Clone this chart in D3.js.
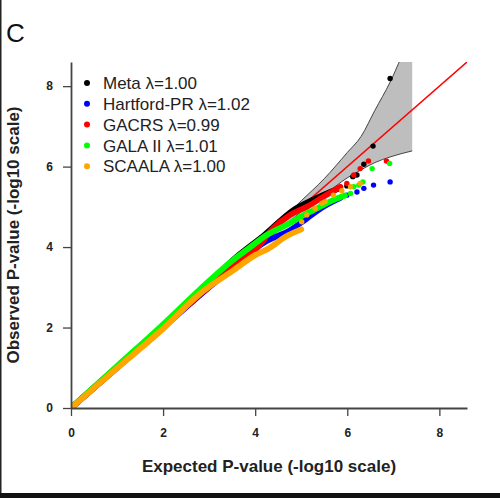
<!DOCTYPE html>
<html><head><meta charset="utf-8">
<script src="https://cdn.jsdelivr.net/npm/d3@7"></script>
<style>html,body{margin:0;padding:0;background:#fff;}svg{display:block;}</style>
</head><body>
<svg id="c" width="500" height="498"></svg>
<script>
// ---------- data ----------
const xTicks = [0, 2, 4, 6, 8];
const yTicks = [0, 2, 4, 6, 8];
const seriesNames = ["Meta", "Hartford-PR", "GACRS", "GALA II", "SCAALA"];
const lambdas = ["1.00", "1.02", "0.99", "1.01", "1.00"];
const colors = ["#000000", "#0000ff", "#ff0000", "#00ff00", "#ffa500"];

// 99% confidence band: expected, lower, upper
const bandX  = [0, 2, 3, 4, 4.5, 5, 5.5, 6, 6.3, 6.6, 6.93, 7.41];
const bandLo = [0, 1.98, 2.96, 3.93, 4.4, 4.88, 5.3, 5.72, 5.92, 6.1, 6.24, 6.39];
const bandUp = [0, 2.02, 3.04, 4.08, 4.6, 5.15, 5.7, 6.35, 6.75, 7.4, 8.1, 9.4];

// dense part of each QQ curve: [expected, observed]
const metaLine = [[0,0],[1,1.02],[2,2.05],[3,3.08],[3.5,3.66],[4.2,4.3],[4.83,4.92],[5.3,5.2],[5.8,5.45]];
const metaDots = [[5.99,5.52],[6.12,5.75],[6.21,5.79],[6.36,6.06],[6.56,6.51],[6.93,8.19]];
const hartLine = [[0,0],[1,1.0],[2,2.0],[3,3.0],[3.5,3.48],[3.9,3.88],[4.25,4.15],[4.76,4.42],[5.12,4.71],[5.48,5.0],[5.85,5.22]];
const hartDots = [[5.99,5.29],[6.21,5.37],[6.36,5.46],[6.57,5.54],[6.93,5.62]];
const gacrsLine = [[0,0],[1,1.0],[2,2.02],[3,3.02],[3.5,3.5],[4.04,3.98],[4.4,4.48],[4.76,4.8],[5.12,5.0],[5.48,5.25],[5.85,5.5]];
const gacrsDots = [[5.99,5.58],[6.14,5.79],[6.28,5.95],[6.46,6.14],[6.85,6.14]];
const galaLine = [[0,0],[1,1.04],[2,2.08],[2.8,2.95],[3.5,3.66],[3.85,3.96],[4.25,4.3],[4.76,4.6],[4.98,4.75],[5.27,4.92],[5.7,5.17],[5.95,5.28]];
const galaDots = [[6.07,5.33],[6.14,5.5],[6.25,5.54],[6.34,5.62],[6.54,5.95],[6.92,6.08]];
const scaalaLine = [[0,0],[1,0.99],[2,1.97],[2.8,2.84],[3.5,3.4],[4.0,3.8],[4.3,3.97],[4.65,4.25],[5.0,4.44]];
const scaalaDots = [[5.01,4.63],[5.12,4.8],[5.3,4.96],[5.45,5.09],[5.52,5.13],[5.7,5.29],[5.88,5.4],[6.07,5.5],[6.28,5.58]];

const lines = [metaLine, hartLine, gacrsLine, galaLine, scaalaLine];
const dots = [metaDots, hartDots, gacrsDots, galaDots, scaalaDots];
const drawOrder = [0, 1, 2, 3, 4];

// ---------- chart ----------
const svg = d3.select("#c");
const x = d3.scaleLinear().domain([0, 8.6]).range([71, 467]);
const y = d3.scaleLinear().domain([0, 8.6]).range([408, 62]);

svg.append("defs").append("clipPath").attr("id", "plot")
  .append("rect").attr("x", 71).attr("y", 62).attr("width", 396).attr("height", 346);

// frame pieces
svg.append("rect").attr("x", 0).attr("y", 0).attr("width", 1.5).attr("height", 498).attr("fill", "#222");
svg.append("rect").attr("x", 0).attr("y", 493).attr("width", 500).attr("height", 5).attr("fill", "#111");

// panel letter
svg.append("text").attr("x", 6).attr("y", 42).attr("font-family", "Liberation Sans, Arial, sans-serif")
  .attr("font-size", 26).attr("fill", "#111").text("C");

const g = svg.append("g").attr("clip-path", "url(#plot)");

// band
const bandData = bandX.map((d, i) => ({x: d, lo: bandLo[i], up: bandUp[i]}));
g.append("path").datum(bandData)
  .attr("d", d3.area().x(d => x(d.x)).y0(d => y(d.lo)).y1(d => y(d.up)).curve(d3.curveMonotoneX))
  .attr("fill", "#bebebe");
["lo", "up"].forEach(k => {
  g.append("path").datum(bandData)
    .attr("d", d3.line().x(d => x(d.x)).y(d => y(d[k])).curve(d3.curveMonotoneX))
    .attr("fill", "none").attr("stroke", "#333").attr("stroke-width", 0.9);
});

// diagonal
g.append("line").attr("x1", x(0)).attr("y1", y(0)).attr("x2", x(8.6)).attr("y2", y(8.6))
  .attr("stroke", "#ff0000").attr("stroke-width", 1.5);

// series
const lineGen = d3.line().x(d => x(d[0])).y(d => y(d[1])).curve(d3.curveMonotoneX);
drawOrder.forEach(i => {
  g.append("path").datum(lines[i]).attr("d", lineGen)
    .attr("fill", "none").attr("stroke", colors[i]).attr("stroke-width", 5.8)
    .attr("stroke-linecap", "round").attr("stroke-linejoin", "round");
  g.selectAll(null).data(dots[i]).enter().append("circle")
    .attr("cx", d => x(d[0])).attr("cy", d => y(d[1])).attr("r", 2.7).attr("fill", colors[i]);
});

// axes
const font = "Liberation Sans, Arial, sans-serif";
const xAxis = svg.append("g").attr("transform", "translate(0,408)")
  .call(d3.axisBottom(x).tickValues(xTicks).tickSize(8).tickSizeOuter(0).tickPadding(12).tickFormat(d3.format("d")));
const yAxis = svg.append("g").attr("transform", "translate(71,0)")
  .call(d3.axisLeft(y).tickValues(yTicks).tickSize(8).tickSizeOuter(0).tickPadding(10).tickFormat(d3.format("d")));
[xAxis, yAxis].forEach(a => {
  a.select(".domain").attr("stroke", "#444").attr("stroke-width", 1.8);
  a.selectAll(".tick line").attr("stroke", "#444").attr("stroke-width", 1.3);
  a.selectAll(".tick text").attr("font-family", font).attr("font-size", 12)
    .attr("font-weight", "bold").attr("fill", "#222");
});

// axis titles
svg.append("text").attr("x", 269).attr("y", 472).attr("text-anchor", "middle")
  .attr("font-family", font).attr("font-size", 17).attr("font-weight", "bold").attr("fill", "#222")
  .text("Expected P-value (-log10 scale)");
svg.append("text").attr("transform", "translate(19,235) rotate(-90)").attr("text-anchor", "middle")
  .attr("font-family", font).attr("font-size", 17).attr("font-weight", "bold").attr("fill", "#222")
  .text("Observed P-value (-log10 scale)");

// legend
const leg = svg.append("g");
seriesNames.forEach((n, i) => {
  const cy = 83 + i * 20.8;
  leg.append("circle").attr("cx", 87).attr("cy", cy).attr("r", 3).attr("fill", colors[i]);
  leg.append("text").attr("x", 103).attr("y", cy).attr("dy", "0.36em")
    .attr("font-family", font).attr("font-size", 17).attr("fill", "#222")
    .text(n + " λ=" + lambdas[i]);
});
</script>
</body></html>
